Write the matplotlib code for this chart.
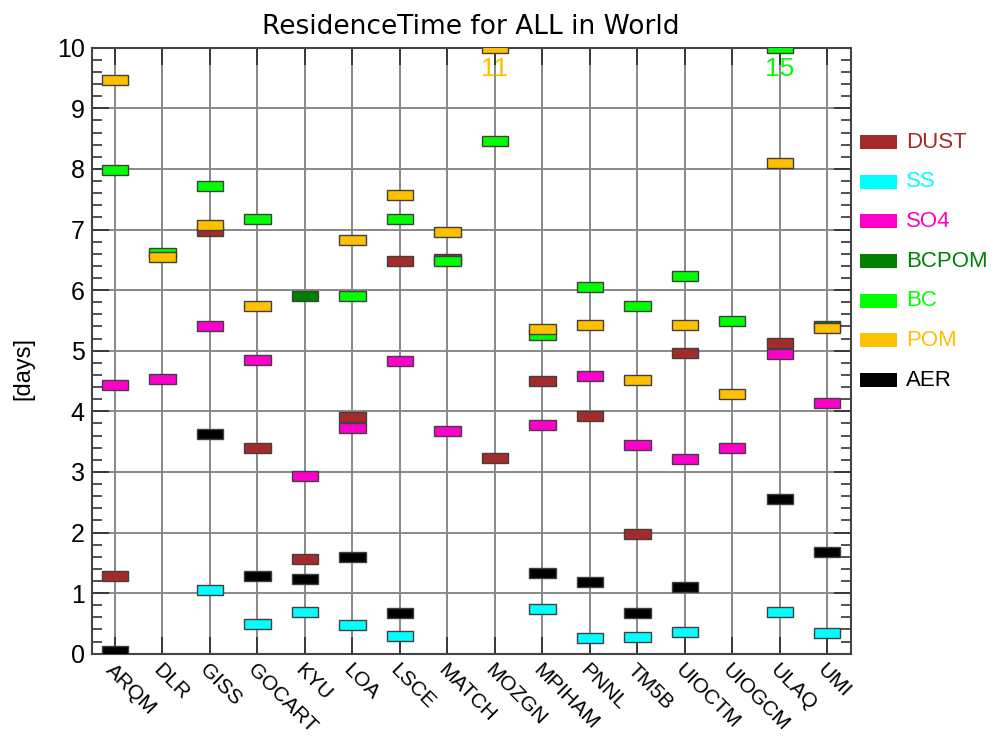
import matplotlib
matplotlib.use('Agg')
import matplotlib.pyplot as plt
from matplotlib.patches import Rectangle
from matplotlib.ticker import MultipleLocator
import matplotlib.transforms as mtransforms

models = ['ARQM', 'DLR', 'GISS', 'GOCART', 'KYU', 'LOA', 'LSCE', 'MATCH',
          'MOZGN', 'MPIHAM', 'PNNL', 'TM5B', 'UIOCTM', 'UIOGCM', 'ULAQ', 'UMI']

# residence time in days, None = not provided by the model
dust = [1.28, None, 6.97, 3.39, 1.57, 3.90, 6.48, 6.51, 3.23, 4.50, 3.92, 1.97, 4.96, None, 5.13, None]
ss = [None, None, 1.05, 0.49, 0.68, 0.47, 0.30, None, None, 0.74, 0.26, 0.28, 0.35, None, 0.68, 0.34]
so4 = [4.43, 4.53, 5.40, 4.85, 2.93, 3.72, 4.83, 3.67, None, 3.78, 4.59, 3.44, 3.21, 3.39, 4.94, 4.13]
bcpom = [None, None, None, None, 5.91, None, None, None, None, None, None, None, None, None, None, 5.40]
bc = [7.98, 6.61, 7.71, 7.17, None, 5.91, 7.17, 6.48, 8.46, 5.26, 6.05, 5.73, 6.24, 5.49, 15, None]
pom = [9.47, 6.55, 7.08, 5.73, None, 6.83, 7.57, 6.96, 11, 5.36, 5.42, 4.52, 5.42, 4.28, 8.09, 5.37]
aer = [0.05, None, 3.62, 1.29, 1.24, 1.60, 0.67, None, None, 1.33, 1.18, 0.67, 1.10, None, 2.55, 1.68]

species = ['DUST', 'SS', 'SO4', 'BCPOM', 'BC', 'POM', 'AER']
series = [dust, ss, so4, bcpom, bc, pom, aer]
colors = ['#A52A2A', '#00FFFF', '#FF00CC', '#008000', '#00FF00', '#FFC000', '#000000']

ymax = 10
W, H = 992, 738
fig = plt.figure(figsize=(W / 100, H / 100), dpi=100)
ax = fig.add_axes([91.7 / W, 1 - 653.7 / H, 759 / W, 606 / H])

box_w = 0.55
box_h = 0.165
for vals, c in zip(series, colors):
    for i, v in enumerate(vals):
        if v is None:
            continue
        y = min(v, ymax)
        ax.bar(i, box_h, bottom=y - box_h / 2, width=box_w, color=c,
               edgecolor='#404040', linewidth=1, zorder=3)
        if v > ymax:
            # value off the scale: write it under the top
            ax.text(i, ymax - 0.35, '%g' % v, color=c, fontsize=19,
                    ha='center', va='center', family='Liberation Sans', zorder=4)

ax.set_xlim(-0.49, 15.49)
ax.set_ylim(0, ymax)
ax.set_xticks(range(len(models)))
ax.set_xticklabels(models, rotation=-45, ha='left', va='top',
                   rotation_mode='anchor', fontsize=15, family='Liberation Sans')
shift = mtransforms.ScaledTranslation(-9 / 100, 6 / 100, fig.dpi_scale_trans)
for lab in ax.get_xticklabels():
    lab.set_transform(lab.get_transform() + shift)

ax.yaxis.set_major_locator(MultipleLocator(1))
ax.yaxis.set_minor_locator(MultipleLocator(0.2))
ax.tick_params(axis='both', which='major', direction='in', length=12, width=1.3,
               color='#333333', top=True, right=True)
ax.tick_params(axis='y', which='minor', direction='in', length=7, width=1.2,
               color='#333333', left=True, right=True)
ax.tick_params(axis='x', pad=5)
ax.tick_params(axis='y', pad=5)
for lab in ax.get_yticklabels():
    lab.set_fontsize(18)
    lab.set_family('Liberation Sans')

ax.grid(True, which='major', color='#888888', linewidth=1.4, zorder=0)
ax.set_axisbelow(True)
for sp in ax.spines.values():
    sp.set_color('#444444')
    sp.set_linewidth(1.5)

ax.set_ylabel('[days]', fontsize=17, family='Liberation Sans')
ax.yaxis.set_label_coords(-0.075, 0.47)
ax.set_title('ResidenceTime for ALL in World', fontsize=19,
             family='DejaVu Sans', pad=10)

# legend on the right, one coloured box and label per species
for k in range(len(species)):
    yc = 142 + k * 39.7
    fig.add_artist(Rectangle((860 / W, 1 - (yc + 7) / H), 37 / W, 14 / H,
                             facecolor=colors[k], edgecolor='none',
                             transform=fig.transFigure))
    fig.text(906 / W, 1 - yc / H, species[k], color=colors[k], fontsize=16,
             family='Liberation Sans', va='center', ha='left')

plt.savefig('out.png', dpi=100)
